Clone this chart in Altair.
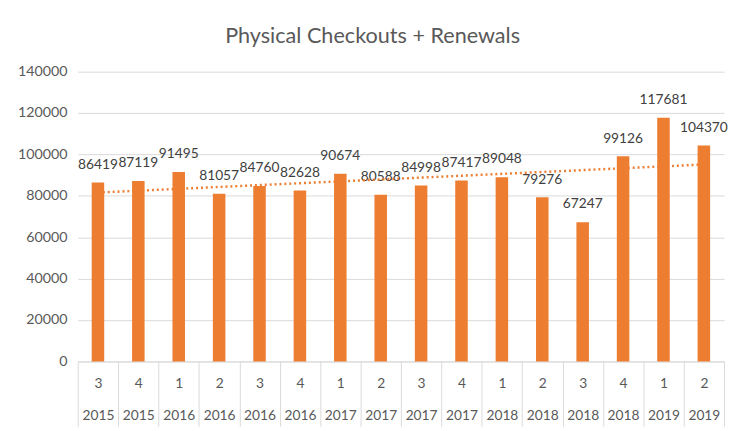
import altair as alt
import pandas as pd

quarters = [3, 4, 1, 2, 3, 4, 1, 2, 3, 4, 1, 2, 3, 4, 1, 2]
years = [2015, 2015, 2016, 2016, 2016, 2016, 2017, 2017, 2017, 2017, 2018, 2018, 2018, 2018, 2019, 2019]
values = [86419, 87119, 91495, 81057, 84760, 82628, 90674, 80588, 84998, 87417,
          89048, 79276, 67247, 99126, 117681, 104370]

df = pd.DataFrame({
    "idx": list(range(1, len(values) + 1)),
    "key": [f"{q}|{y}" for q, y in zip(quarters, years)],
    "value": values,
})

FONT = "Lato"
ORANGE = "#ED7D31"
GRID = "#d9d9d9"
TXT = "#595959"

x_band = alt.X(
    "key:N", sort=None,
    scale=alt.Scale(paddingInner=0, paddingOuter=0),
    axis=alt.Axis(
        title=None, labelAngle=0, orient="bottom",
        labelExpr="datum.value ? split(datum.value, '|') : ''",
        tickBand="extent", tickSize=66, tickColor=GRID, domainColor=GRID,
        labelPadding=-50, labelLineHeight=32, labelFont=FONT, labelFontSize=14,
        labelColor=TXT, grid=False, labelOverlap=False,
    ),
)
y_enc = alt.Y(
    "value:Q",
    scale=alt.Scale(domain=[0, 140000], nice=False),
    axis=alt.Axis(
        title=None, values=list(range(0, 140001, 20000)), format="d",
        grid=True, gridColor=GRID, domain=False, ticks=False, labelPadding=11,
        labelFont=FONT, labelFontSize=14.5, labelColor=TXT,
    ),
)

base = alt.Chart(df).encode(x=x_band, y=y_enc)

bars = base.mark_bar(color=ORANGE, width=alt.RelativeBandSize(0.31))

labels = base.mark_text(
    font=FONT, fontSize=14, color="#404040", dy=-18, baseline="middle"
).encode(text=alt.Text("value:Q", format="d"))

trend = alt.Chart(df).transform_regression("idx", "value", method="linear").mark_line(
    color=ORANGE, strokeDash=[2, 3], strokeWidth=2.5
).encode(
    x=alt.X("idx:Q", scale=alt.Scale(domain=[0.5, 16.5], nice=False, zero=False), axis=None),
    y=alt.Y("value:Q"),
)

chart = alt.layer(alt.layer(bars, labels), trend).resolve_scale(x="independent").properties(
    width=658, height=295,
    title=alt.TitleParams(
        "Physical Checkouts + Renewals", font=FONT, fontSize=22, fontWeight="normal",
        color=TXT, anchor="middle", frame="bounds", offset=16,
    ),
    padding={"left": 9, "top": 14, "right": 0, "bottom": 0},
).configure_view(stroke=None)

chart.save("out.html", embed_options={"renderer": "svg", "actions": False})
